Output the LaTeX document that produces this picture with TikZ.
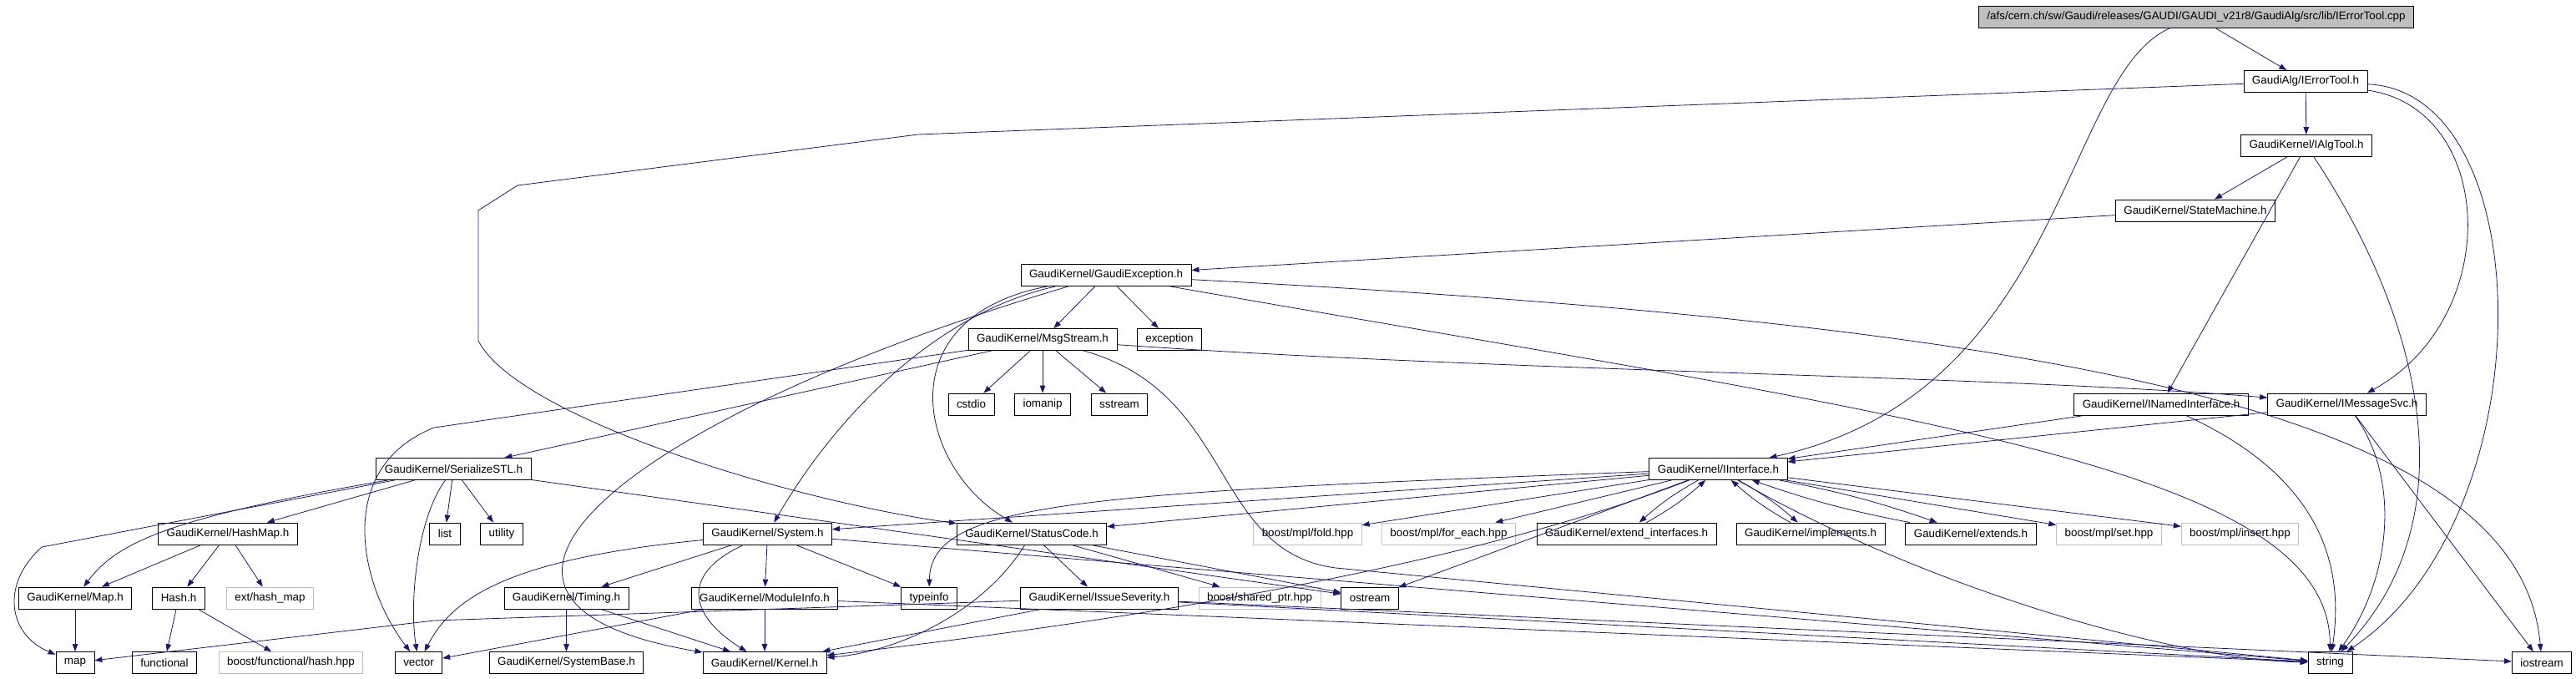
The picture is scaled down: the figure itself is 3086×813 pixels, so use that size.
\documentclass[tikz,border=0pt]{standalone}
\usepackage{fontspec}
\setmainfont{Liberation Sans}
\usetikzlibrary{arrows.meta,positioning}
\definecolor{edgeblue}{HTML}{191970}
\definecolor{boxgray}{HTML}{BFBFBF}

\begin{document}
\begin{tikzpicture}[x=1pt,y=-1pt,>={Triangle[length=9pt,width=6.5pt]}]
    \tikzstyle{file}=[rectangle,draw,line width=0.8pt,inner xsep=10pt,inner ysep=0pt,minimum height=26pt,font=\fontsize{13.4}{16}\selectfont]
    \tikzstyle{sysfile}=[file,draw=boxgray]
    \tikzstyle{rootfile}=[file,fill=boxgray]
    \tikzstyle{dep}=[->,draw=edgeblue,line width=0.8pt]
    \useasboundingbox (0,0) rectangle (3086,813);

    % files, row by row
    \node[rootfile] (root) at (2631,20) {/afs/cern.ch/sw/Gaudi/releases/GAUDI/GAUDI\_v21r8/GaudiAlg/src/lib/IErrorTool.cpp};
    \node[file] (errTool) at (2762,97.5) {GaudiAlg/IErrorTool.h};
    \node[file] (algTool) at (2763,174.5) {GaudiKernel/IAlgTool.h};
    \node[file] (stateMach) at (2630,252) {GaudiKernel/StateMachine.h};
    \node[file] (gaudiExc) at (1325,329.5) {GaudiKernel/GaudiException.h};
    \node[file] (msgStream) at (1249,406.5) {GaudiKernel/MsgStream.h};
    \node[file] (exceptionH) at (1401,406.5) {exception};
    \node[file] (cstdio) at (1163.5,484) {cstdio};
    \node[file] (iomanip) at (1249,484) {iomanip};
    \node[file] (sstream) at (1341,484) {sstream};
    \node[file] (namedIf) at (2589,484) {GaudiKernel/INamedInterface.h};
    \node[file] (msgSvc) at (2811.5,484) {GaudiKernel/IMessageSvc.h};
    \node[file] (serialSTL) at (543.5,561.5) {GaudiKernel/SerializeSTL.h};
    \node[file] (iface) at (2058.5,561.5) {GaudiKernel/IInterface.h};
    \node[file] (hashMap) at (273,639) {GaudiKernel/HashMap.h};
    \node[file] (listH) at (533,639) {list};
    \node[file] (utilityH) at (601,639) {utility};
    \node[file] (systemH) at (919.5,639) {GaudiKernel/System.h};
    \node[file] (statusCode) at (1236,639) {GaudiKernel/StatusCode.h};
    \node[sysfile] (mplFold) at (1566.5,639) {boost/mpl/fold.hpp};
    \node[sysfile] (mplForEach) at (1735.5,639) {boost/mpl/for\_each.hpp};
    \node[file] (extendIf) at (1948.5,639) {GaudiKernel/extend\_interfaces.h};
    \node[file] (implementsH) at (2169,639) {GaudiKernel/implements.h};
    \node[file] (extendsH) at (2361,639) {GaudiKernel/extends.h};
    \node[sysfile] (mplSet) at (2526.5,639) {boost/mpl/set.hpp};
    \node[sysfile] (mplInsert) at (2683.5,639) {boost/mpl/insert.hpp};
    \node[file] (mapH) at (90,716) {GaudiKernel/Map.h};
    \node[file] (hashH) at (214,716) {Hash.h};
    \node[sysfile] (extHashMap) at (323.5,716) {ext/hash\_map};
    \node[file] (timingH) at (678.5,716) {GaudiKernel/Timing.h};
    \node[file] (moduleInfo) at (916,716) {GaudiKernel/ModuleInfo.h};
    \node[file] (typeinfoH) at (1113,716) {typeinfo};
    \node[file] (issueSev) at (1317,716) {GaudiKernel/IssueSeverity.h};
    \node[sysfile] (sharedPtr) at (1509,716) {boost/shared\_ptr.hpp};
    \node[file] (ostreamH) at (1641,716) {ostream};
    \node[file] (mapStd) at (90,793.5) {map};
    \node[file] (functionalH) at (197,793.5) {functional};
    \node[sysfile] (boostHash) at (348.5,793.5) {boost/functional/hash.hpp};
    \node[file] (vectorH) at (501.5,793.5) {vector};
    \node[file] (systemBase) at (678.5,793.5) {GaudiKernel/SystemBase.h};
    \node[file] (kernelH) at (916,793.5) {GaudiKernel/Kernel.h};
    \node[file] (stringH) at (2791.5,793.5) {string};
    \node[file] (iostreamH) at (3045,793.5) {iostream};

    % the source file
    \draw[dep] (root) -- (errTool);
    \draw[dep] (root) .. controls (2470,90) and (2475,470) .. (iface);
    % IErrorTool.h
    \draw[dep] (errTool) -- (algTool);
    \draw[dep] (errTool) -- (1100,161) -- (620,222) -- (573,252) -- (573,408) .. controls (620,500) and (950,600) .. (statusCode);
    \draw[dep] (errTool) .. controls (2990,130) and (3000,380) .. (msgSvc);
    \draw[dep] (errTool) .. controls (3045,110) and (3050,620) .. (stringH);
    % IAlgTool.h
    \draw[dep] (algTool) -- (stateMach);
    \draw[dep] (algTool) -- (namedIf);
    \draw[dep] (algTool) .. controls (2900,380) and (2960,620) .. (stringH);
    % StateMachine.h
    \draw[dep] (stateMach) -- (gaudiExc);
    % GaudiException.h
    \draw[dep] (gaudiExc) -- (msgStream);
    \draw[dep] (gaudiExc) -- (exceptionH);
    \draw[dep] (gaudiExc) .. controls (1060,380) and (1100,560) .. (statusCode);
    \draw[dep] (gaudiExc) .. controls (1120,375) and (1000,500) .. (systemH);
    \draw[dep] (gaudiExc) .. controls (750,500) and (480,720) .. (kernelH);
    \draw[dep] (gaudiExc) .. controls (2500,390) and (3020,500) .. (iostreamH);
    \draw[dep] (gaudiExc) .. controls (2300,500) and (2790,560) .. (stringH);
    % MsgStream.h
    \draw[dep] (msgStream) -- (cstdio);
    \draw[dep] (msgStream) -- (iomanip);
    \draw[dep] (msgStream) -- (sstream);
    \draw[dep] (msgStream) .. controls (1800,445) and (2400,450) .. (msgSvc);
    \draw[dep] (msgStream) -- (serialSTL);
    \draw[dep] (msgStream) -- (520,512) .. controls (400,560) and (430,700) .. (vectorH);
    \draw[dep] (msgStream) .. controls (1480,470) and (1450,660) .. (1600,680) -- (stringH);
    % INamedInterface.h, IMessageSvc.h
    \draw[dep] (namedIf) -- (iface);
    \draw[dep] (namedIf) .. controls (2800,580) and (2805,700) .. (stringH);
    \draw[dep] (msgSvc) -- (iface);
    \draw[dep] (msgSvc) .. controls (2880,580) and (2860,700) .. (stringH);
    \draw[dep] (msgSvc) -- (iostreamH);
    % SerializeSTL.h
    \draw[dep] (serialSTL) -- (hashMap);
    \draw[dep] (serialSTL) .. controls (200,620) and (140,650) .. (mapH);
    \draw[dep] (serialSTL) -- (50,655) .. controls (0,700) and (10,760) .. (mapStd);
    \draw[dep] (serialSTL) -- (listH);
    \draw[dep] (serialSTL) -- (utilityH);
    \draw[dep] (serialSTL) .. controls (500,620) and (490,720) .. (vectorH);
    \draw[dep] (serialSTL) -- (ostreamH);
    % IInterface.h
    \draw[dep] (iface) -- (systemH);
    \draw[dep] (iface) -- (statusCode);
    \draw[dep] (iface) .. controls (1300,590) and (1115,600) .. (typeinfoH);
    \draw[dep] (iface) -- (mplFold);
    \draw[dep] (iface) -- (mplForEach);
    \draw[dep] (iface) to[bend right=6] (extendIf);
    \draw[dep] (extendIf) to[bend right=6] (iface);
    \draw[dep] (iface) to[bend left=6] (implementsH);
    \draw[dep] (implementsH) to[bend left=6] (iface);
    \draw[dep] (iface) to[bend left=4] (extendsH);
    \draw[dep] (extendsH) to[bend left=4] (iface);
    \draw[dep] (iface) -- (mplSet);
    \draw[dep] (iface) -- (mplInsert);
    \draw[dep] (iface) -- (ostreamH);
    \draw[dep] (iface) .. controls (1700,700) and (1200,760) .. (kernelH);
    \draw[dep] (iface) .. controls (2300,700) and (2600,790) .. (stringH);
    % HashMap.h, Map.h, Hash.h
    \draw[dep] (hashMap) -- (mapH);
    \draw[dep] (hashMap) -- (hashH);
    \draw[dep] (hashMap) -- (extHashMap);
    \draw[dep] (mapH) -- (mapStd);
    \draw[dep] (hashH) -- (functionalH);
    \draw[dep] (hashH) -- (boostHash);
    % System.h
    \draw[dep] (systemH) -- (timingH);
    \draw[dep] (systemH) -- (moduleInfo);
    \draw[dep] (systemH) -- (typeinfoH);
    \draw[dep] (systemH) .. controls (810,690) and (830,740) .. (kernelH);
    \draw[dep] (systemH) .. controls (600,670) and (540,720) .. (vectorH);
    \draw[dep] (systemH) -- (stringH);
    % StatusCode.h
    \draw[dep] (statusCode) -- (issueSev);
    \draw[dep] (statusCode) -- (sharedPtr);
    \draw[dep] (statusCode) -- (ostreamH);
    \draw[dep] (statusCode) .. controls (1180,730) and (1080,780) .. (kernelH);
    % Timing.h, ModuleInfo.h
    \draw[dep] (timingH) -- (systemBase);
    \draw[dep] (timingH) -- (kernelH);
    \draw[dep] (moduleInfo) -- (kernelH);
    \draw[dep] (moduleInfo) -- (vectorH);
    \draw[dep] (moduleInfo) -- (stringH);
    % IssueSeverity.h
    \draw[dep] (issueSev) -- (520,743) -- (mapStd);
    \draw[dep] (issueSev) -- (kernelH);
    \draw[dep] (issueSev) -- (stringH);
    \draw[dep] (issueSev) -- (iostreamH);
\end{tikzpicture}
\end{document}
